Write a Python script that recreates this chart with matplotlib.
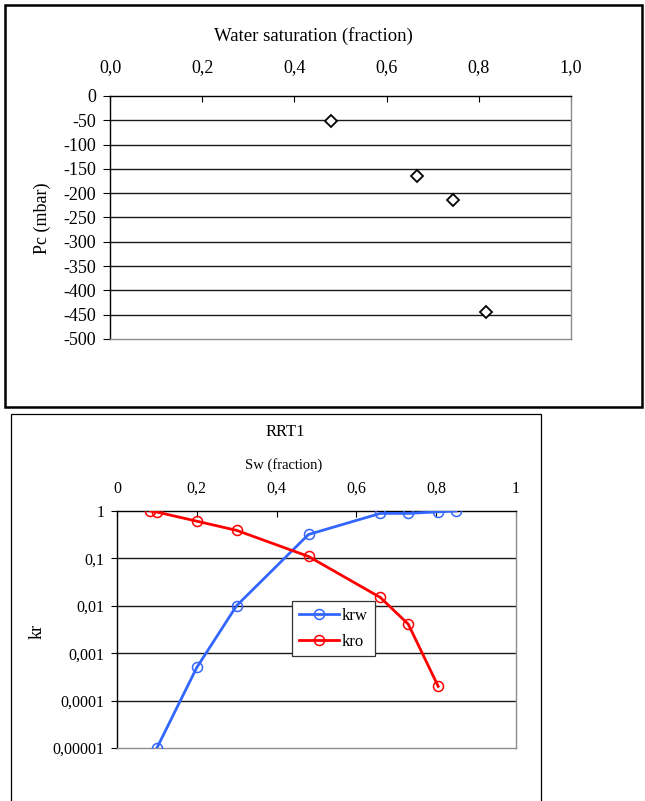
import matplotlib
matplotlib.use("Agg")
import matplotlib.pyplot as plt
from matplotlib.patches import Rectangle

plt.rcParams['font.family'] = ['Liberation Serif', 'DejaVu Serif']

# ---- data: capillary pressure ----
sw_pc = [0.48, 0.666, 0.744, 0.816]
pc_vals = [-52, -165, -214, -444]
pc_xticks = [0.0, 0.2, 0.4, 0.6, 0.8, 1.0]
pc_xticklabels = ["0,0", "0,2", "0,4", "0,6", "0,8", "1,0"]
pc_yticks = [0, -50, -100, -150, -200, -250, -300, -350, -400, -450, -500]
pc_yticklabels = ["0", "-50", "-100", "-150", "-200", "-250", "-300", "-350", "-400", "-450", "-500"]

# ---- data: relative permeability RRT1 ----
sw_krw = [0.10, 0.20, 0.30, 0.48, 0.66, 0.73, 0.805, 0.85]
krw = [0.00001, 0.0005, 0.0101, 0.32, 0.89, 0.89, 0.96, 1.0]
sw_kro = [0.083, 0.10, 0.20, 0.30, 0.48, 0.66, 0.73, 0.805]
kro = [1.0, 0.95, 0.61, 0.39, 0.11, 0.015, 0.0041, 0.0002]
kr_xticks = [0, 0.2, 0.4, 0.6, 0.8, 1.0]
kr_xticklabels = ["0", "0,2", "0,4", "0,6", "0,8", "1"]
kr_yticks = [1, 0.1, 0.01, 0.001, 0.0001, 0.00001]
kr_yticklabels = ["1", "0,1", "0,01", "0,001", "0,0001", "0,00001"]

W, H = 645, 801
fig = plt.figure(figsize=(W / 100, H / 100), dpi=100)

def fx(px):
    return px / W

def fy(py):
    return 1 - py / H

# panel borders
fig.add_artist(Rectangle((fx(5), fy(407)), fx(642) - fx(5), fy(5) - fy(407),
                         transform=fig.transFigure, fill=False, edgecolor='black', lw=1.8))
fig.add_artist(Rectangle((fx(11), fy(812)), fx(541) - fx(11), fy(414) - fy(812),
                         transform=fig.transFigure, fill=False, edgecolor='black', lw=0.9))

grid_color = '#1a1a1a'
spine_gray = '#8c8c8c'

# ---- top panel ----
ax1 = fig.add_axes([fx(110), fy(339), fx(571) - fx(110), fy(96) - fy(339)])
ax1.plot(sw_pc, pc_vals, linestyle='none', marker='D', markersize=6.6,
         markerfacecolor='white', markeredgecolor='black', markeredgewidth=1.3, zorder=3)
ax1.set_xlim(0, 1)
ax1.set_ylim(-500, 0)
ax1.xaxis.tick_top()
ax1.set_xticks(pc_xticks)
ax1.set_xticklabels(pc_xticklabels)
ax1.set_yticks(pc_yticks)
ax1.set_yticklabels(pc_yticklabels)
ax1.tick_params(axis='x', direction='in', length=4, pad=14, labelsize=13)
ax1.tick_params(axis='y', direction='out', length=5, pad=5, labelsize=13)
for v in pc_yticks[1:-1]:
    ax1.axhline(v, color=grid_color, lw=1.0, zorder=1)
ax1.spines['right'].set_color(spine_gray)
ax1.spines['bottom'].set_color(spine_gray)
for s in ax1.spines.values():
    s.set_linewidth(1.0)
fig.text(fx(313), fy(36), "Water saturation (fraction)", ha='center', va='center', fontsize=13.5)
fig.text(fx(42), fy(218), "Pc (mbar)", ha='center', va='center', rotation=90, fontsize=13)

# ---- bottom panel ----
ax2 = fig.add_axes([fx(117), fy(748), fx(516) - fx(117), fy(511) - fy(748)])
blue = '#3366FF'
red = '#FF0000'
ax2.plot(sw_krw, krw, color=blue, lw=2.0, marker='o', markersize=7.2,
         markerfacecolor='none', markeredgecolor=blue, markeredgewidth=1.1, label='krw', zorder=3)
ax2.plot(sw_kro, kro, color=red, lw=2.0, marker='o', markersize=7.2,
         markerfacecolor='none', markeredgecolor=red, markeredgewidth=1.1, label='kro', zorder=3)
ax2.set_yscale('log')
ax2.set_xlim(0, 1)
ax2.set_ylim(0.00001, 1)
ax2.xaxis.tick_top()
ax2.set_xticks(kr_xticks)
ax2.set_xticklabels(kr_xticklabels)
ax2.set_yticks(kr_yticks)
ax2.set_yticklabels(kr_yticklabels)
ax2.yaxis.set_minor_locator(matplotlib.ticker.NullLocator())
ax2.tick_params(axis='x', direction='in', length=4, pad=10, labelsize=11.5)
ax2.tick_params(axis='y', direction='out', length=4, pad=5, labelsize=11.5)
for v in kr_yticks[1:-1]:
    ax2.axhline(v, color=grid_color, lw=1.0, zorder=1)
ax2.spines['right'].set_color(spine_gray)
ax2.spines['bottom'].set_color(spine_gray)
for s in ax2.spines.values():
    s.set_linewidth(1.0)
leg = ax2.legend(loc='upper left', bbox_to_anchor=(fx(292), fy(601)), bbox_transform=fig.transFigure,
                 borderaxespad=0, frameon=True, fancybox=False, edgecolor='#333333', fontsize=12,
                 handlelength=2.4, handletextpad=0.2, borderpad=0.4, labelspacing=0.6)
leg.get_frame().set_linewidth(0.9)
leg.get_frame().set_alpha(1)
fig.text(fx(285), fy(432), "RRT1", ha='center', va='center', fontsize=12)
fig.text(fx(284), fy(465), "Sw (fraction)", ha='center', va='center', fontsize=10.5)
fig.text(fx(37), fy(631), "kr", ha='center', va='center', rotation=90, fontsize=13)

fig.savefig("out.png", dpi=100)
